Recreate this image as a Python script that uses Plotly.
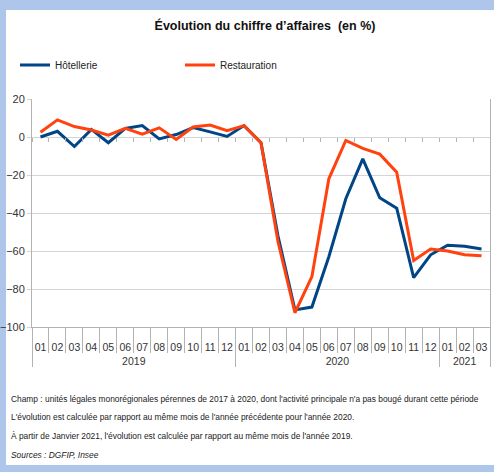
import plotly.graph_objects as go

W, H = 494, 472
years = ["2019"] * 12 + ["2020"] * 12 + ["2021"] * 3
months = ["01", "02", "03", "04", "05", "06", "07", "08", "09", "10", "11", "12",
          "01", "02", "03", "04", "05", "06", "07", "08", "09", "10", "11", "12",
          "01", "02", "03"]
hotellerie = [0, 3, -5, 4, -3, 4.5, 6, -1, 1.3, 5, 2.7, 0.3,
              6, -3, -52, -91, -89.5, -63, -32.5, -11.5, -32, -37.5, -74, -62,
              -57, -57.5, -59]
restauration = [2.5, 9, 5.5, 3.7, 1, 4.5, 1.5, 4.8, -1.3, 5.3, 6.3, 3.3,
                6, -3, -55, -92.5, -73.5, -22, -1.8, -6, -9, -18.5, -65, -59,
                -60, -62, -62.5]
yticks = [20, 0, -20, -40, -60, -80, -100]
title_text = "Évolution du chiffre d’affaires  (en %)"
notes = [
    ("Champ : unités légales monorégionales pérennes de 2017 à 2020, dont l'activité principale n'a pas bougé durant cette période", False),
    ("L'évolution est calculée par rapport au même mois de l'année précédente pour l'année 2020.", False),
    ("À partir de Janvier 2021, l'évolution est calculée par rapport au même mois de l'année 2019.", False),
    ("Sources : DGFIP, Insee", True),
]

BLUE = "#004586"
ORANGE = "#ff420e"
BG = "#aec6ea"
GRID = "#d4d4d4"
AX = "#b3b3b3"
FONT = "Liberation Sans, Arial, sans-serif"

L, R, T, B = 32, 4, 99, 145
PW, PH = W - L - R, H - T - B


def fx(px):
    return (px - L) / PW


def fy(py):
    return 1 - (py - T) / PH


fig = go.Figure()
fig.add_trace(go.Scatter(x=[years, months], y=hotellerie, name="Hôtellerie",
                         mode="lines", line=dict(color=BLUE, width=3)))
fig.add_trace(go.Scatter(x=[years, months], y=restauration, name="Restauration",
                         mode="lines", line=dict(color=ORANGE, width=3)))
idx = list(range(len(months)))
xrange = [-0.5, len(idx) - 0.5]
bounds = [i - 0.5 for i in idx] + [len(idx) - 0.5]
for ax in ("x2", "x3"):
    fig.add_trace(go.Scatter(x=idx, y=hotellerie, xaxis=ax, mode="lines",
                             opacity=0, showlegend=False, hoverinfo="skip"))

fig.add_shape(type="rect", xref="paper", yref="paper", x0=fx(6), x1=fx(W + 5),
              y0=fy(465), y1=fy(10), fillcolor="white", line_width=0, layer="below")

for i, (t, it) in enumerate(notes):
    fig.add_annotation(xref="paper", yref="paper", x=fx(9), y=fy(398.5 + 18.8 * i),
                       xanchor="left", yanchor="middle", showarrow=False,
                       text=f"<i>{t}</i>" if it else t,
                       font=dict(family=FONT, size=8.4, color="#222"))

overlay = dict(overlaying="x", range=xrange, tickvals=bounds,
               ticks="outside", tickcolor=AX, showticklabels=False, showgrid=False,
               showline=False, zeroline=False, automargin=False)

fig.update_layout(
    width=W, height=H,
    margin=dict(l=L, r=R, t=T, b=B, autoexpand=False),
    paper_bgcolor=BG, plot_bgcolor="white",
    title=dict(text=title_text, x=fx(265), xanchor="center", y=1 - 26 / H,
               yanchor="middle", xref="paper",
               font=dict(family=FONT, size=12.5, color="#111", weight="bold")),
    legend=dict(orientation="h", x=fx(15), y=fy(65), xanchor="left", yanchor="middle",
                entrywidth=120, bgcolor="rgba(0,0,0,0)",
                font=dict(family=FONT, size=10, color="#222")),
    xaxis=dict(type="multicategory", range=xrange, showgrid=False, ticks="outside",
               tickson="labels", ticklen=10, tickcolor="rgba(0,0,0,0)",
               tickangle=0, automargin=False,
               showdividers=True, dividercolor=AX, dividerwidth=1,
               showline=True, linecolor=AX, mirror=False,
               tickfont=dict(family=FONT, size=10.5, color="#333")),
    xaxis2=dict(anchor="free", position=100 / 120, ticklen=4, **overlay),
    xaxis3=dict(anchor="y", ticklen=25, **overlay),
    yaxis=dict(range=[-100, 20], tickvals=yticks, showgrid=True, gridcolor=GRID,
               zeroline=False, showline=True, linecolor=AX, mirror=True,
               ticks="outside", ticklen=4, tickcolor=GRID, automargin=False,
               tickfont=dict(family=FONT, size=11, color="#333")),
)
fig.write_html("out.html", config={"displayModeBar": False},
               post_script="document.body.style.margin='0';document.body.style.background='%s';" % BG)
